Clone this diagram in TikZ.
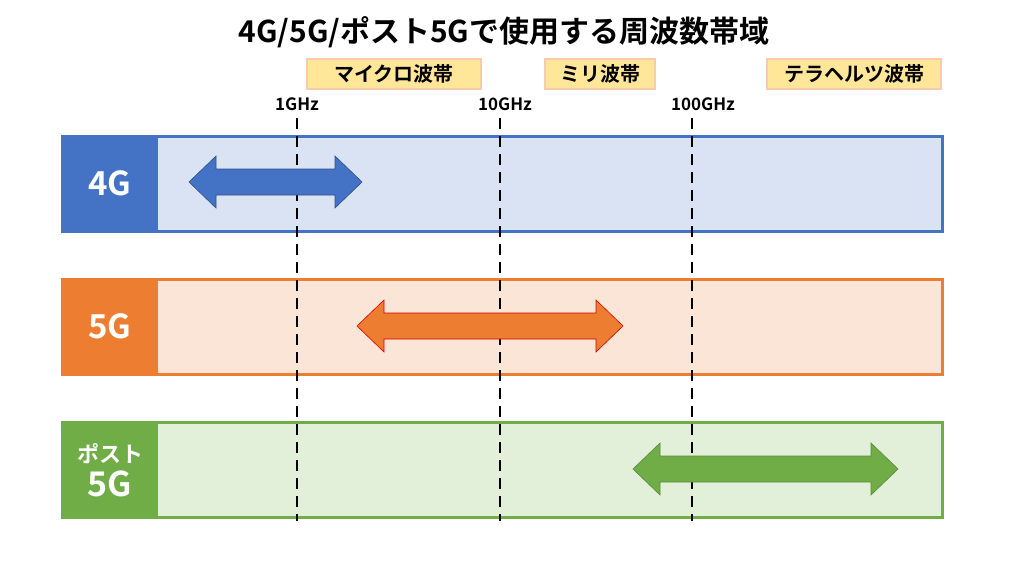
\documentclass[tikz,border=0pt]{standalone}
\usepackage{fontspec}
\setmainfont{Noto Sans CJK JP}[BoldFont={* Bold}]
\definecolor{cB}{HTML}{4472C4}\definecolor{lB}{HTML}{DAE3F3}
\definecolor{cO}{HTML}{ED7D31}\definecolor{lO}{HTML}{FBE5D6}
\definecolor{cG}{HTML}{70AD47}\definecolor{lG}{HTML}{E2F0D9}
\definecolor{bandF}{HTML}{FFE699}\definecolor{bandD}{HTML}{F8CBAD}
\newcommand{\rngarrow}[4]{% x1,x2,y,style
 \draw[#4] (#1,#3) -- (#1+27,#3-26) -- (#1+27,#3-13) -- (#2-27,#3-13) -- (#2-27,#3-26) -- (#2,#3)
  -- (#2-27,#3+26) -- (#2-27,#3+13) -- (#1+27,#3+13) -- (#1+27,#3+26) -- cycle;}
\begin{document}
\begin{tikzpicture}[x=1pt,y=-1pt,
 band/.style={draw=bandD,fill=bandF,line width=2.5pt,inner sep=0pt,font=\bfseries\fontsize{20}{20}\selectfont},
 freq/.style={font=\bfseries\fontsize{17}{17}\selectfont},
 gen/.style={text=white,font=\bfseries\fontsize{33}{34}\selectfont,align=center}]
\useasboundingbox (0,0) rectangle (1024,576);
\node[font=\bfseries\fontsize{30}{30}\selectfont] (title) at (504,32) {4G/5G/ポスト5Gで使用する周波数帯域};
\node[band,minimum width=174pt,minimum height=30pt] (mw) at (394,74) {マイクロ波帯};
\node[band,minimum width=110pt,minimum height=30pt] (mm) at (600,74) {ミリ波帯};
\node[band,minimum width=174pt,minimum height=30pt] (th) at (854,74) {テラヘルツ波帯};
\node[freq] (f1) at (297,104) {1GHz};
\node[freq] (f10) at (505,104) {10GHz};
\node[freq] (f100) at (703,104) {100GHz};
% bars
\draw[cB,fill=lB,line width=3pt] (62,136) rectangle (942,231);
\fill[cB] (62,136) rectangle (158,231);
\node[gen] (g4) at (110,183) {4G};
\draw[cO,fill=lO,line width=3pt] (62,279) rectangle (942,374);
\fill[cO] (62,279) rectangle (158,374);
\node[gen] (g5) at (110,326) {5G};
\draw[cG,fill=lG,line width=3pt] (62,422) rectangle (942,517);
\fill[cG] (62,422) rectangle (158,517);
\node[gen,text height=] (gp) at (110,470) {\fontsize{22}{30}\selectfont ポスト\\\fontsize{34}{34}\selectfont 5G};
% dashed
\coordinate (d1t) at (297,118); \coordinate (d1b) at (297,521);
\coordinate (d2t) at (500,118); \coordinate (d2b) at (500,521);
\coordinate (d3t) at (692,118); \coordinate (d3b) at (692,521);
\foreach \a/\b in {d1t/d1b,d2t/d2b,d3t/d3b}\draw[line width=2.5pt,dash pattern=on 11pt off 7pt] (\a)--(\b);
% arrows
\rngarrow{189}{362}{182}{fill=cB,draw=cB!70!black,line width=0.6pt}
\rngarrow{357}{623}{326}{fill=cO,draw=red!85!black,line width=0.6pt}
\rngarrow{633}{898}{469}{fill=cG,draw=cG!80!black,line width=0.6pt}
\end{tikzpicture}
\end{document}
